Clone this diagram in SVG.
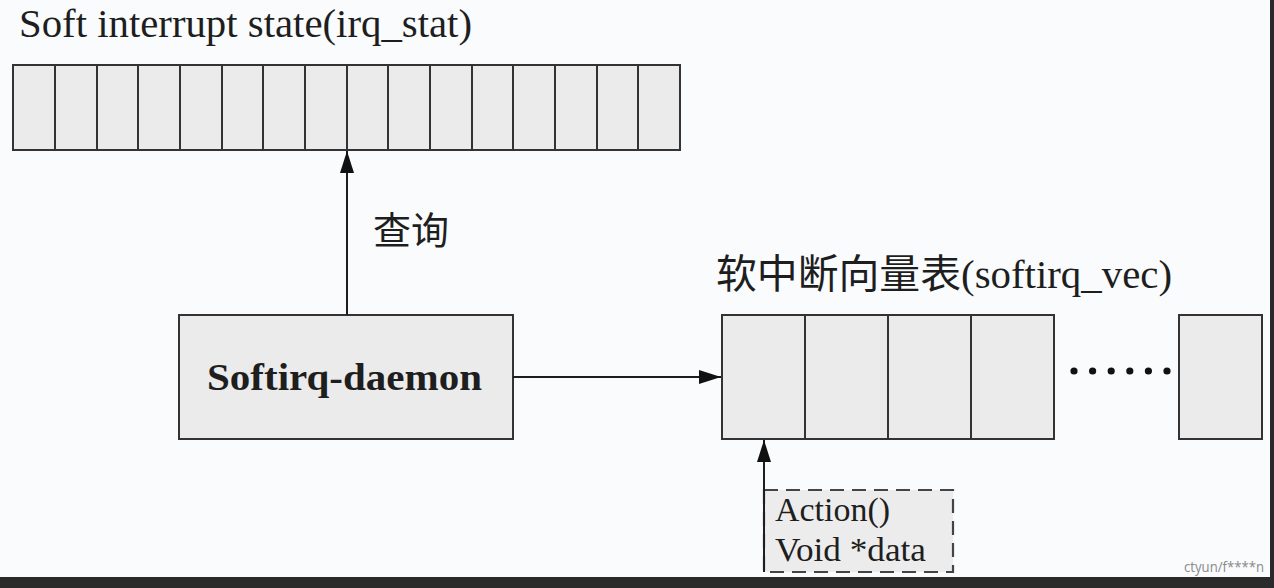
<svg xmlns="http://www.w3.org/2000/svg" width="1274" height="588" viewBox="0 0 1274 588">
<style>
.bg{fill:#f9fbfc}
.cell{fill:#ebebeb;stroke:#333;stroke-width:2}
.div{stroke:#333;stroke-width:2}
.lbl{font-family:"Liberation Serif","Noto Sans CJK SC",serif;fill:#1e1e1e}
.conn{stroke:#1e1e1e;stroke-width:2;fill:none}
.dash{fill:#ececec;stroke:#444;stroke-width:2.2;stroke-dasharray:14 8}
</style>
<defs>
<marker id="ah" viewBox="0 0 22 14" refX="22" refY="7" markerWidth="22" markerHeight="14" markerUnits="userSpaceOnUse" orient="auto">
<path d="M0,0 L22,7 L0,14 z" fill="#111"/>
</marker>
</defs>
<rect class="bg" x="0" y="0" width="1274" height="588"/>

<g id="irq_stat">
<text class="lbl" x="19" y="37" font-size="40" textLength="453" lengthAdjust="spacingAndGlyphs">Soft interrupt state(irq_stat)</text>
<rect class="cell" x="13" y="65" width="667" height="85"/>
<path class="div" d="M55,65V150M97,65V150M138,65V150M180,65V150M222,65V150M263,65V150M305,65V150M347,65V150M388,65V150M430,65V150M472,65V150M513,65V150M555,65V150M597,65V150M638,65V150"/>
</g>

<g id="daemon">
<rect class="cell" x="179" y="315" width="334" height="124"/>
<text class="lbl" x="207" y="390" font-size="38" font-weight="bold" textLength="275" lengthAdjust="spacingAndGlyphs">Softirq-daemon</text>
</g>

<g id="softirq_vec">
<text class="lbl" x="716" y="288" font-size="40" textLength="456" lengthAdjust="spacingAndGlyphs">软中断向量表(softirq_vec)</text>
<rect class="cell" x="722" y="315" width="332" height="124"/>
<path class="div" d="M805,315V439M888,315V439M971,315V439"/>
<g fill="#111">
<circle cx="1074" cy="371" r="3.6"/>
<circle cx="1092.6" cy="371" r="3.6"/>
<circle cx="1111.2" cy="371" r="3.6"/>
<circle cx="1129.8" cy="371" r="3.6"/>
<circle cx="1148.4" cy="371" r="3.6"/>
<circle cx="1167" cy="371" r="3.6"/>
</g>
<rect class="cell" x="1179" y="315" width="83" height="124"/>
</g>

<g id="action">
<rect class="dash" x="764" y="490" width="189" height="82"/>
<text class="lbl" x="775" y="521" font-size="33" textLength="115" lengthAdjust="spacingAndGlyphs">Action()</text>
<text class="lbl" x="775" y="561" font-size="33" textLength="151" lengthAdjust="spacingAndGlyphs">Void *data</text>
</g>

<g id="query-label">
<text class="lbl" x="373" y="244" font-size="38">查询</text>
</g>

<g id="connectors">
<line class="conn" x1="347" y1="315" x2="347" y2="151" marker-end="url(#ah)"/>
<line class="conn" x1="513" y1="377" x2="721" y2="377" marker-end="url(#ah)"/>
<line class="conn" x1="764" y1="572" x2="764" y2="440" marker-end="url(#ah)"/>
</g>

<rect x="0" y="577" width="1274" height="11" fill="#2a2a2a"/>
<rect x="1270" y="0" width="4" height="588" fill="#2a2a2a"/>
<text x="1184" y="572" font-family="'Open Sans','DejaVu Sans',sans-serif" font-size="14" fill="#8a8a8a" textLength="80" lengthAdjust="spacingAndGlyphs">ctyun/f****n</text>
</svg>
